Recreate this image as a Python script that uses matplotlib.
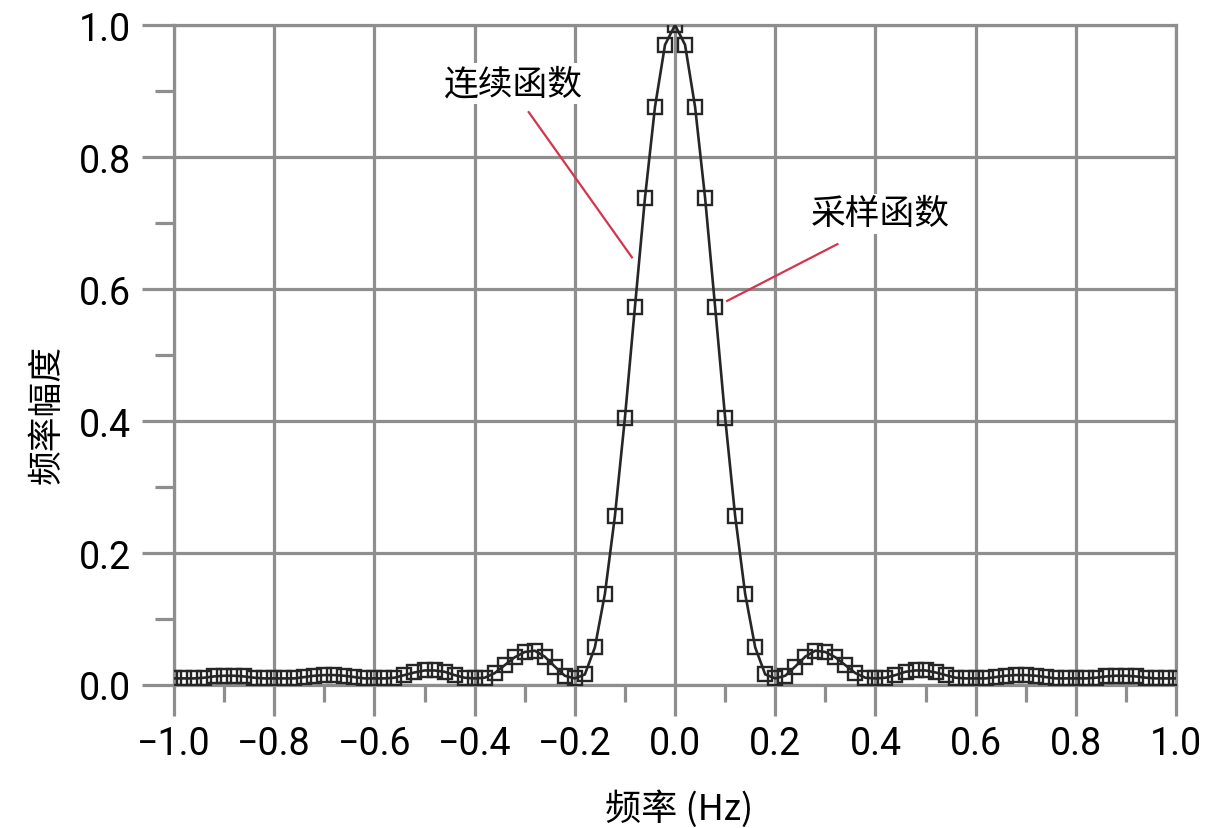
import numpy as np
import matplotlib
matplotlib.use('Agg')
import matplotlib.pyplot as plt
from matplotlib.ticker import MultipleLocator

plt.rcParams['font.family'] = ['Roboto', 'Noto Sans CJK SC', 'DejaVu Sans']

# frequency axis (Hz), step 0.02
freq = np.round(np.arange(-50, 51) * 0.02, 2)

amp_left = [0.010, 0.010, 0.010, 0.011, 0.013, 0.014, 0.014, 0.013, 0.011, 0.010,
            0.010, 0.010, 0.010, 0.012, 0.014, 0.015, 0.015, 0.014, 0.012, 0.010,
            0.010, 0.010, 0.011, 0.015, 0.019, 0.022, 0.022, 0.020, 0.015, 0.011,
            0.010, 0.011, 0.018, 0.030, 0.042, 0.050, 0.052, 0.043, 0.028, 0.014,
            0.010, 0.016, 0.057, 0.138, 0.256, 0.405, 0.573, 0.738, 0.876, 0.970]
amp_peak = [1.0]
amp_right = [0.970, 0.876, 0.738, 0.573, 0.405, 0.256, 0.138, 0.057, 0.016, 0.010,
             0.014, 0.028, 0.043, 0.052, 0.050, 0.042, 0.030, 0.018, 0.011, 0.010,
             0.011, 0.015, 0.020, 0.022, 0.022, 0.019, 0.015, 0.011, 0.010, 0.010,
             0.010, 0.012, 0.014, 0.015, 0.015, 0.014, 0.012, 0.010, 0.010, 0.010,
             0.010, 0.011, 0.013, 0.014, 0.014, 0.013, 0.011, 0.010, 0.010, 0.010]
amp = amp_left + amp_peak + amp_right

grid_col = '#8e8e8e'
red = '#d4354c'
cjk = ['Noto Sans CJK SC', 'DejaVu Sans']

fig = plt.figure(figsize=(12.28, 8.29), dpi=100)
ax = fig.add_axes([0.1417, 0.1725, 0.8160, 0.7961])

ax.plot(freq, amp, color='#262626', lw=1.9, zorder=3)
ax.plot(freq, amp, ls='none', marker='s', ms=10.5, mfc='none', mec='#262626',
        mew=1.7, zorder=4)

ax.set_xlim(-1.0, 1.0)
ax.set_ylim(0, 1.0)
ax.xaxis.set_major_locator(MultipleLocator(0.2))
ax.xaxis.set_minor_locator(MultipleLocator(0.1))
ax.yaxis.set_major_locator(MultipleLocator(0.2))
ax.yaxis.set_minor_locator(MultipleLocator(0.1))
ax.xaxis.set_major_formatter(plt.FuncFormatter(lambda v, p: f'{v:.1f}'.replace('-', '\u2212')))
ax.yaxis.set_major_formatter(plt.FuncFormatter(lambda v, p: f'{v:.1f}'))

ax.grid(True, which='major', color=grid_col, lw=2.3, zorder=1)
for s in ax.spines.values():
    s.set_color(grid_col)
    s.set_linewidth(2.3)

ax.tick_params(axis='x', which='major', direction='out', length=22, width=2.3,
               color=grid_col, labelsize=27, pad=7)
ax.tick_params(axis='y', which='major', direction='out', length=23, width=2.3,
               color=grid_col, labelsize=27, pad=8)
ax.tick_params(axis='x', which='minor', direction='out', length=12, width=2.3,
               color=grid_col)
ax.tick_params(axis='y', which='minor', direction='out', length=14, width=2.3,
               color=grid_col)

ax.set_xlabel('频率 (Hz)', fontsize=26, family=cjk, weight='medium')
ax.set_ylabel('频率幅度', fontsize=25, family=cjk, weight='medium')
ax.xaxis.set_label_coords(0.504, -0.158)
ax.yaxis.set_label_coords(-0.109, 0.412)

box = dict(facecolor='white', edgecolor='none', pad=2)
ax.text(-0.322, 0.911, '连续函数', fontsize=25, ha='center', va='center',
        family=cjk, weight='medium', bbox=box, zorder=5)
ax.text(0.41, 0.714, '采样函数', fontsize=25, ha='center', va='center',
        family=cjk, weight='medium', bbox=box, zorder=5)
ax.plot([-0.292, -0.086], [0.868, 0.648], color=red, lw=1.6, zorder=5)
ax.plot([0.324, 0.104], [0.668, 0.582], color=red, lw=1.6, zorder=5)

fig.savefig('out.png', dpi=100)
